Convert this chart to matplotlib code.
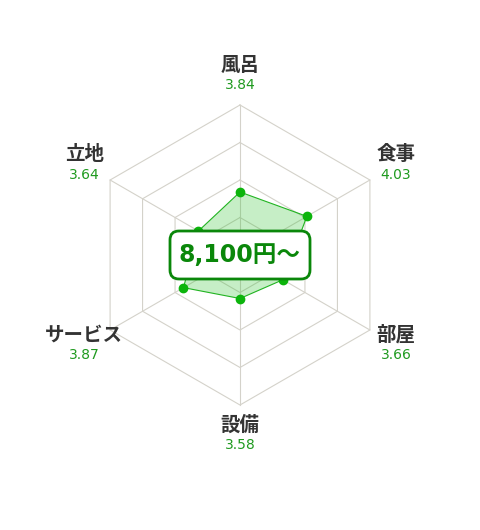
import numpy as np
import matplotlib
matplotlib.use('Agg')
import matplotlib.pyplot as plt
from matplotlib.patches import FancyBboxPatch

# data
labels = ['風呂', '食事', '部屋', '設備', 'サービス', '立地']
scores = [3.84, 4.03, 3.66, 3.58, 3.87, 3.64]
levels = [3.5, 4.0, 4.5, 5.0]
vmin, vmax = 3.0, 5.0
price = '8,100円～'

R = 150.0   # px radius of outer ring
n = len(labels)
ang = np.pi / 2 - np.arange(n) * 2 * np.pi / n   # clockwise from top

def xy(v):
    r = (np.asarray(v) - vmin) / (vmax - vmin) * R
    return r * np.cos(ang), r * np.sin(ang)

fig = plt.figure(figsize=(4.8, 5.3), dpi=100)
ax = fig.add_axes([0, 0, 1, 1])
ax.set_xlim(-240, 240)
ax.set_ylim(-275, 255)
ax.axis('off')

grid_c = '#d4d2ca'
for lv in levels:
    x, y = xy([lv] * n)
    ax.plot(np.append(x, x[0]), np.append(y, y[0]), color=grid_c, lw=0.8, zorder=1)
ox, oy = xy([vmax] * n)
for i in range(n):
    ax.plot([0, ox[i]], [0, oy[i]], color=grid_c, lw=0.8, zorder=1)

x, y = xy(scores)
ax.fill(np.append(x, x[0]), np.append(y, y[0]), color='#1fbf1f', alpha=0.25,
        lw=0, zorder=2)
ax.plot(np.append(x, x[0]), np.append(y, y[0]), color='#22b422', lw=0.8, zorder=3)
ax.plot(x, y, 'o', color='#0cb40c', markersize=6, zorder=4)

jp = ['Noto Sans CJK JP', 'DejaVu Sans']
for i in range(n):
    cx, cy = 180 * np.cos(ang[i]), 180 * np.sin(ang[i])
    ax.text(cx, cy + 10, labels[i], ha='center', va='center', fontsize=14,
            fontweight='bold', color='#333333', family=jp)
    ax.text(cx, cy - 10, '%.2f' % scores[i], ha='center', va='center',
            fontsize=10, color='#1f9a1f', family=['DejaVu Sans'])

box = FancyBboxPatch((-70, -24), 140, 48, boxstyle='round,pad=0,rounding_size=9',
                     facecolor='white', edgecolor='#0a870a', lw=2, zorder=5)
ax.add_patch(box)
ax.text(0, 0, price, ha='center', va='center', fontsize=17, fontweight='bold',
        color='#0a870a', family=['DejaVu Sans', 'Noto Sans CJK JP'], zorder=6)

plt.savefig('out.png', dpi=100)
